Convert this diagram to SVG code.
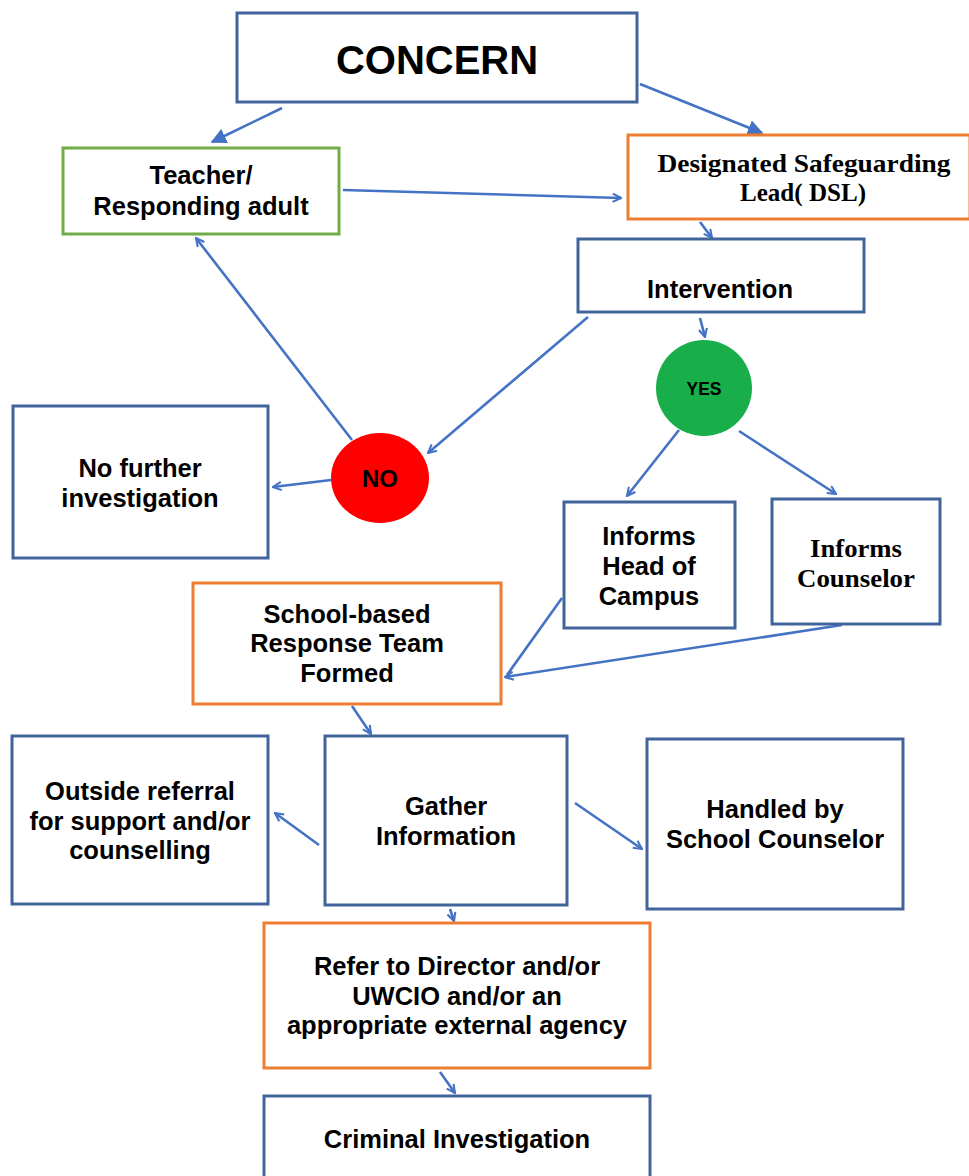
<svg xmlns="http://www.w3.org/2000/svg" width="969" height="1176" viewBox="0 0 969 1176">
<style>
.box{fill:#fff;stroke:#41659b;stroke-width:3}
.green{fill:#fff;stroke:#70ad47;stroke-width:3}
.orange{fill:#fff;stroke:#ed7d31;stroke-width:3}
.t{font-family:"Liberation Sans",Arial,sans-serif;font-weight:bold;font-size:25.5px;fill:#000;text-anchor:middle}
.s{font-family:"Liberation Serif","Times New Roman",serif;font-weight:bold;font-size:25.5px;fill:#000;text-anchor:middle}
.c{fill:none;stroke:#4472c4;stroke-width:2.6}
</style>
<defs>
<marker id="big" viewBox="0 0 10 10" refX="9" refY="5" markerWidth="6" markerHeight="6" orient="auto" markerUnits="strokeWidth">
<path d="M0,0 L10,5 L0,10 z" fill="#4472c4"/>
</marker>
<marker id="open" viewBox="0 0 10 10" refX="9" refY="5" markerWidth="4" markerHeight="4" orient="auto" markerUnits="strokeWidth">
<path d="M1,1 L9,5 L1,9" fill="none" stroke="#4472c4" stroke-width="2"/>
</marker>
</defs>
<rect width="969" height="1176" fill="#fff"/>
<g id="connectors">
<line class="c" x1="282" y1="108" x2="212" y2="142" marker-end="url(#big)"/>
<line class="c" x1="640" y1="84" x2="762" y2="133" marker-end="url(#big)"/>
<line class="c" x1="343" y1="190" x2="621" y2="198" marker-end="url(#open)"/>
<line class="c" x1="700" y1="222" x2="712" y2="238" marker-end="url(#open)"/>
<line class="c" x1="700" y1="318" x2="705" y2="337" marker-end="url(#open)"/>
<line class="c" x1="588" y1="317" x2="428" y2="453" marker-end="url(#open)"/>
<line class="c" x1="352" y1="440" x2="196" y2="238" marker-end="url(#open)"/>
<line class="c" x1="331" y1="480" x2="273" y2="487" marker-end="url(#open)"/>
<line class="c" x1="679" y1="430" x2="627" y2="496" marker-end="url(#open)"/>
<line class="c" x1="739" y1="431" x2="836" y2="494" marker-end="url(#open)"/>
<line class="c" x1="562" y1="598" x2="507" y2="675"/>
<line class="c" x1="842" y1="625" x2="505" y2="677" marker-end="url(#open)"/>
<line class="c" x1="352" y1="706" x2="371" y2="734" marker-end="url(#open)"/>
<line class="c" x1="319" y1="845" x2="275" y2="813" marker-end="url(#open)"/>
<line class="c" x1="575" y1="803" x2="642" y2="849" marker-end="url(#open)"/>
<line class="c" x1="450" y1="909" x2="454" y2="921" marker-end="url(#open)"/>
<line class="c" x1="440" y1="1072" x2="455" y2="1093" marker-end="url(#open)"/>
</g>
<g id="concern"><rect class="box" x="237" y="13" width="400" height="89"/><text class="t" x="437" y="74" style="font-size:40px">CONCERN</text></g>
<g id="teacher"><rect class="green" x="63" y="148" width="276" height="86"/><text class="t" x="201" y="184">Teacher/</text><text class="t" x="201" y="215">Responding adult</text></g>
<g id="dsl"><rect class="orange" x="628" y="135" width="342" height="84"/><text class="s" x="804" y="172" textLength="293" lengthAdjust="spacingAndGlyphs">Designated Safeguarding</text><text class="s" x="803" y="201" textLength="126" lengthAdjust="spacingAndGlyphs">Lead( DSL)</text></g>
<g id="intervention"><rect class="box" x="578" y="239" width="286" height="73"/><text class="t" x="720" y="298">Intervention</text></g>
<g id="yes"><circle cx="704" cy="388" r="48" fill="#18ae4a"/><text class="t" x="704" y="395" style="font-size:17.5px">YES</text></g>
<g id="no"><ellipse cx="380" cy="478" rx="49" ry="45" fill="#fe0000"/><text class="t" x="380" y="487" style="font-size:24px">NO</text></g>
<g id="nofurther"><rect class="box" x="13" y="406" width="255" height="152"/><text class="t" x="140" y="477">No further</text><text class="t" x="140" y="507">investigation</text></g>
<g id="head"><rect class="box" x="564" y="502" width="171" height="126"/><text class="t" x="649" y="545">Informs</text><text class="t" x="649" y="575">Head of</text><text class="t" x="649" y="605">Campus</text></g>
<g id="counselor"><rect class="box" x="772" y="499" width="168" height="125"/><text class="s" x="856" y="557" textLength="92" lengthAdjust="spacingAndGlyphs">Informs</text><text class="s" x="856" y="587" textLength="118" lengthAdjust="spacingAndGlyphs">Counselor</text></g>
<g id="team"><rect class="orange" x="193" y="583" width="308" height="121"/><text class="t" x="347" y="623">School-based</text><text class="t" x="347" y="652">Response Team</text><text class="t" x="347" y="682">Formed</text></g>
<g id="outside"><rect class="box" x="12" y="736" width="256" height="168"/><text class="t" x="140" y="800">Outside referral</text><text class="t" x="140" y="830">for support and/or</text><text class="t" x="140" y="859">counselling</text></g>
<g id="gather"><rect class="box" x="325" y="736" width="242" height="169"/><text class="t" x="446" y="815">Gather</text><text class="t" x="446" y="845">Information</text></g>
<g id="handled"><rect class="box" x="647" y="739" width="256" height="170"/><text class="t" x="775" y="818">Handled by</text><text class="t" x="775" y="848">School Counselor</text></g>
<g id="refer"><rect class="orange" x="264" y="923" width="386" height="145"/><text class="t" x="457" y="975">Refer to Director and/or</text><text class="t" x="457" y="1005">UWCIO and/or an</text><text class="t" x="457" y="1034">appropriate external agency</text></g>
<g id="criminal"><rect class="box" x="264" y="1096" width="386" height="90"/><text class="t" x="457" y="1148">Criminal Investigation</text></g>
</svg>
